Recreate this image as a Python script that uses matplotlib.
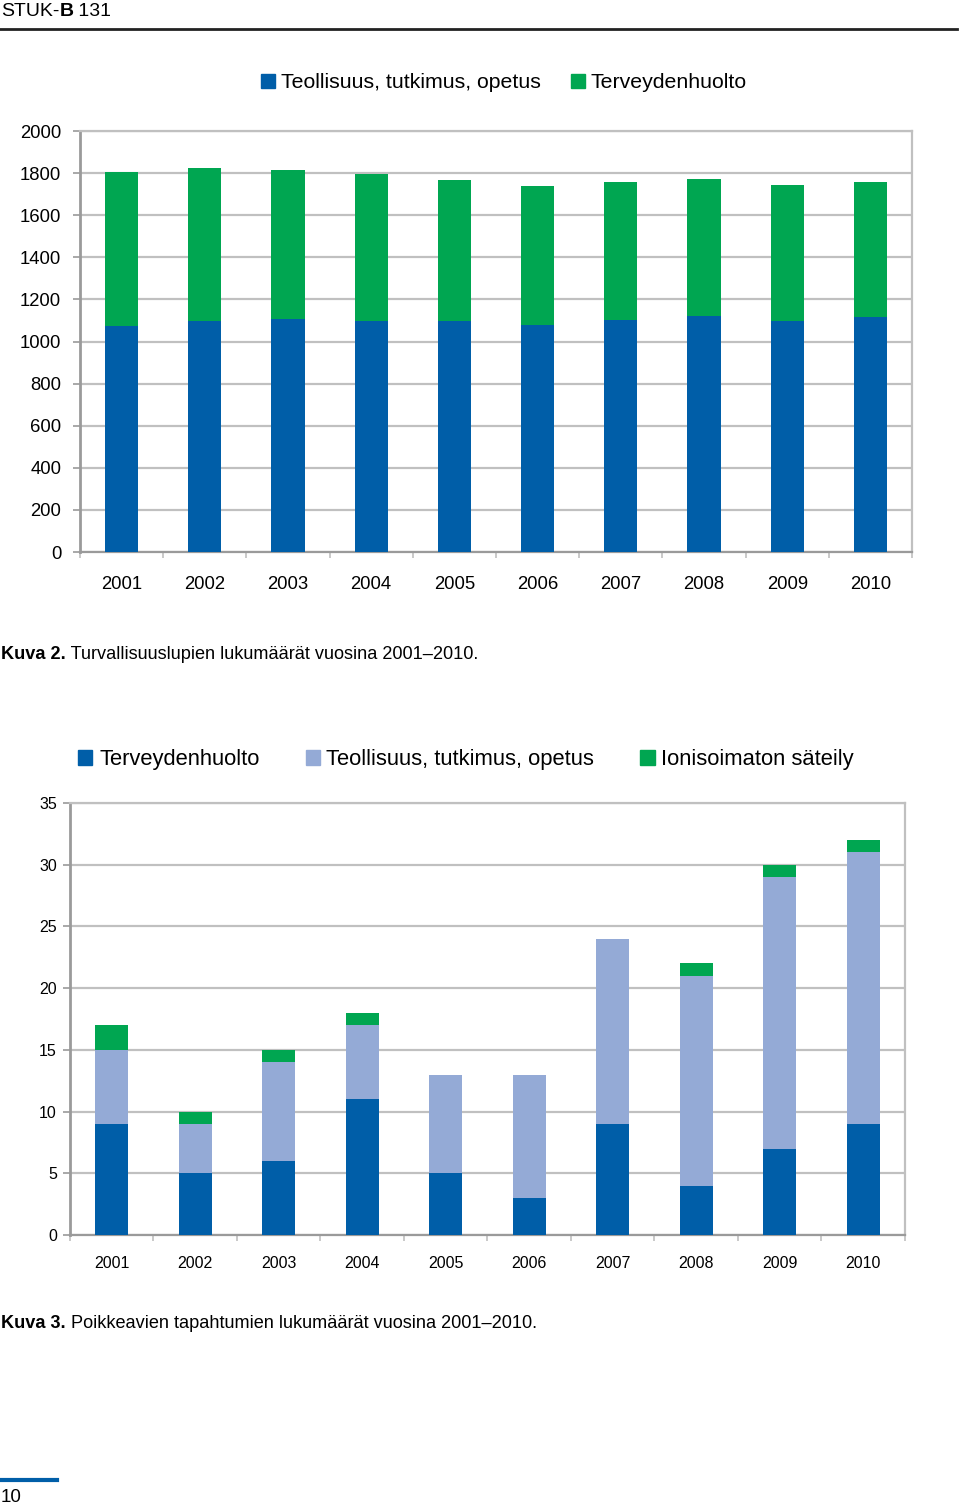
import matplotlib.pyplot as plt
import numpy as np
from matplotlib.patches import Patch

plt.rcParams['font.family'] = ['Liberation Sans', 'DejaVu Sans']

years = ['2001', '2002', '2003', '2004', '2005', '2006', '2007', '2008', '2009', '2010']

# Kuva 2: turvallisuusluvat
luvat_teollisuus = [1073, 1096, 1108, 1096, 1096, 1080, 1102, 1121, 1096, 1116]
luvat_terveys = [732, 727, 708, 700, 670, 657, 657, 652, 649, 643]

# Kuva 3: poikkeavat tapahtumat
tap_terveys = [9, 5, 6, 11, 5, 3, 9, 4, 7, 9]
tap_teollisuus = [6, 4, 8, 6, 8, 10, 15, 17, 22, 22]
tap_ionisoimaton = [2, 1, 1, 1, 0, 0, 0, 1, 1, 1]

blue = '#005ea8'
green = '#00a651'
light = '#94aad6'
grid_c = '#c0c0c0'
spine_c = '#9a9a9a'

fig = plt.figure(figsize=(9.6, 15.1), dpi=100)
renderer = fig.canvas.get_renderer()


def style_axes(ax, ymax, ystep, fs_y, fs_x, xpad, ypad):
    x = np.arange(len(years))
    ax.set_xlim(-0.5, len(years) - 0.5)
    ax.set_ylim(0, ymax)
    ax.set_yticks(np.arange(0, ymax + 1, ystep))
    ax.set_xticks(x)
    ax.set_xticklabels(years, fontsize=fs_x)
    ax.set_xticks(np.arange(-0.5, len(years), 1.0), minor=True)
    ax.tick_params(axis='x', which='major', length=0, pad=xpad)
    ax.tick_params(axis='x', which='minor', length=4, width=1.2, color=grid_c, direction='out')
    ax.tick_params(axis='y', length=5, width=1.2, color=spine_c, pad=ypad, labelsize=fs_y)
    ax.yaxis.grid(True, color=grid_c, linewidth=1.6)
    ax.set_axisbelow(True)
    ax.spines['left'].set_color(spine_c)
    ax.spines['left'].set_linewidth(2)
    for s in ['right', 'top', 'bottom']:
        ax.spines[s].set_color(grid_c)
        ax.spines[s].set_linewidth(1.6)
    ax.spines['bottom'].set_color(spine_c)


def text_run(x, y, parts, fs):
    # parts: list of (text, bold) drawn one after another
    for txt, bold in parts:
        t = fig.text(x, y, txt, fontsize=fs, va='center', ha='left',
                     fontweight='bold' if bold else 'normal')
        bb = t.get_window_extent(renderer=renderer)
        x = x + bb.width / fig.bbox.width


# --- top chart ---
ax1 = fig.add_axes([0.0833, 0.6344, 0.8667, 0.2788])
x = np.arange(len(years))
w = 0.4
ax1.bar(x, luvat_teollisuus, w, color=blue, zorder=3)
ax1.bar(x, luvat_terveys, w, bottom=luvat_teollisuus, color=green, zorder=3)
style_axes(ax1, 2000, 200, 13.3, 13.3, 17, 8.5)

fig.legend(handles=[Patch(color=blue, label='Teollisuus, tutkimus, opetus'),
                    Patch(color=green, label='Terveydenhuolto')],
           loc='center', bbox_to_anchor=(504 / 960, 1 - 83 / 1510), ncol=2,
           frameon=False, fontsize=15.3, handlelength=0.65, handleheight=0.65,
           handletextpad=0.3, columnspacing=1.4)

# --- bottom chart ---
ax2 = fig.add_axes([0.0729, 0.1821, 0.8698, 0.2861])
ax2.bar(x, tap_terveys, w, color=blue, zorder=3)
ax2.bar(x, tap_teollisuus, w, bottom=tap_terveys, color=light, zorder=3)
b2 = np.array(tap_terveys) + np.array(tap_teollisuus)
ax2.bar(x, tap_ionisoimaton, w, bottom=b2, color=green, zorder=3)
style_axes(ax2, 35, 5, 11.5, 11.5, 15, 4.5)

fig.legend(handles=[Patch(color=blue, label='Terveydenhuolto'),
                    Patch(color=light, label='Teollisuus, tutkimus, opetus'),
                    Patch(color=green, label='Ionisoimaton säteily')],
           loc='center', bbox_to_anchor=(466 / 960, 1 - 760 / 1510), ncol=3,
           frameon=False, fontsize=15.8, handlelength=0.65, handleheight=0.65,
           handletextpad=0.3, columnspacing=2.1)

# --- header, captions, footer ---
text_run(0.001, 1 - 11 / 1510, [('STUK-', False), ('B', True), (' 131', False)], 14)
fig.add_artist(plt.Line2D([0, 957 / 960], [1 - 29 / 1510, 1 - 29 / 1510], color='#222222', linewidth=2))

text_run(0.001, 1 - 654 / 1510,
         [('Kuva 2.', True), (' Turvallisuuslupien lukumäärät vuosina 2001–2010.', False)], 13.1)
text_run(0.001, 1 - 1323 / 1510,
         [('Kuva 3.', True), (' Poikkeavien tapahtumien lukumäärät vuosina 2001–2010.', False)], 13.1)

fig.add_artist(plt.Line2D([0, 57 / 960], [1 - 1480 / 1510, 1 - 1480 / 1510], color=blue, linewidth=3))
fig.text(0.001, 1 - 1498 / 1510, '10', fontsize=13.5, va='center', ha='left')

fig.savefig('out.png', dpi=100)
